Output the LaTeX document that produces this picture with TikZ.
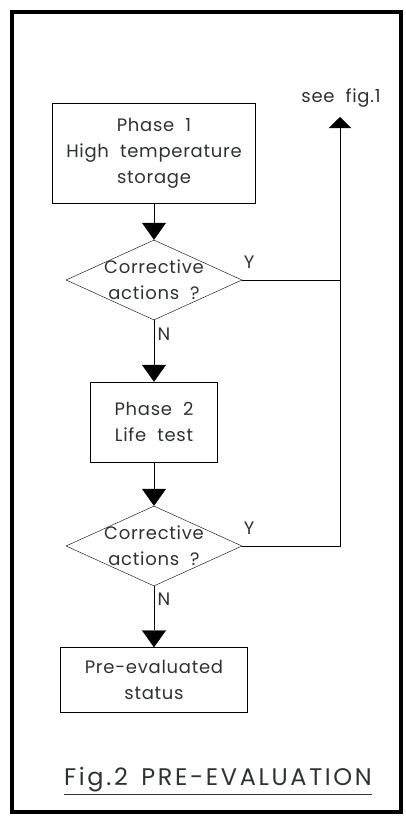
\documentclass[tikz,border=0pt]{standalone}
\usepackage{fontspec}
\setmainfont{Poppins}[LetterSpace=4,WordSpace=2]
\newfontfamily\captionfont{Poppins}[LetterSpace=11,WordSpace=1.5]
\usetikzlibrary{shapes.geometric,arrows.meta}
\definecolor{ink}{HTML}{2E3331}
\tikzset{x=1pt,y=-1pt,color=ink,line width=0.8pt,
  font=\fontsize{18}{26}\selectfont,
  flow/.style={-{Triangle[width=24pt,length=17pt]}},
  phase/.style={draw,rectangle,align=center,inner sep=0pt},
  decision/.style={draw,diamond,inner sep=0pt,minimum width=176pt,minimum height=80pt}}

\begin{document}
\begin{tikzpicture}
  \useasboundingbox (0,0) rectangle (405,819);
  % frame
  \draw[line width=4pt] (12,12) rectangle (401,812);

  \node[phase,minimum width=203pt,minimum height=100pt] (p1) at (154,153)
       {Phase 1\\High temperature\\storage};
  \node[decision,below of=p1,node distance=127pt] (q1) {};
  \node[align=center] at (q1) {Corrective\\actions ?};

  \node[phase,minimum width=127pt,minimum height=80pt,below of=q1,node distance=142pt] (p2)
       {Phase 2\\Life test};
  \node[decision,below of=p2,node distance=124pt] (q2) {};
  \node[align=center] at (q2) {Corrective\\actions ?};

  \node[phase,minimum width=187pt,minimum height=65pt,below of=q2,node distance=134pt] (p3)
       {Pre-evaluated\\status};

  \coordinate (back) at (340,117);
  \node (seefig) at (341,98) {see fig.1};

  \node (caption) at (218,781) {\captionfont\fontsize{24}{28}\selectfont\underline{Fig.2 PRE-EVALUATION}};

  \path
  (p1) edge[flow] (q1)
  (q1) edge[flow] node[right,pos=0.22] {N} (p2)
  (p2) edge[flow] (q2)
  (q2) edge[flow] node[right,pos=0.22] {N} (p3)
  ;
  \draw (q1.east) -- node[above=8pt,pos=0.07] {Y} (q1.east -| back);
  \draw[-{Triangle[width=22pt,length=11pt]}] (q2.east) -- node[above=8pt,pos=0.07] {Y} (q2.east -| back) -- (back);
\end{tikzpicture}
\end{document}
